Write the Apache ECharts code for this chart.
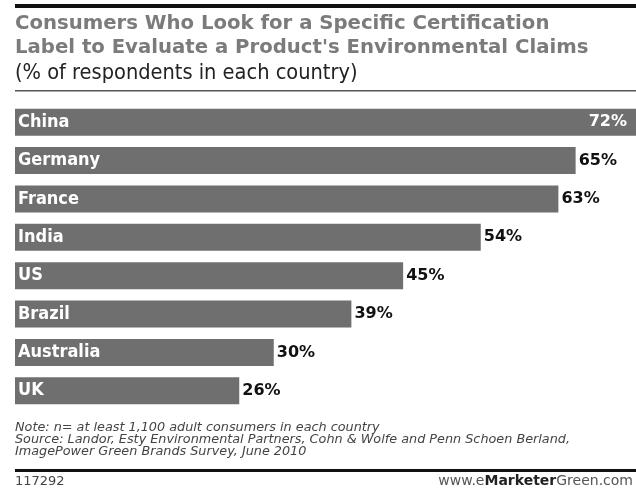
<!DOCTYPE html>
<html>
<head>
<meta charset="utf-8">
<script src="https://cdn.jsdelivr.net/npm/echarts@6/dist/echarts.min.js"></script>
<style>
  html, body { margin: 0; padding: 0; background: #ffffff; }
  #chart { width: 636px; height: 493px; }
</style>
</head>
<body>
<div id="chart"></div>
<script>
// Countries, top to bottom
const countries = ['China', 'Germany', 'France', 'India', 'US', 'Brazil', 'Australia', 'UK'];
// % of respondents who look for a specific certification label
const shares = [72, 65, 63, 54, 45, 39, 30, 26];

const titleLines = [
  'Consumers Who Look for a Specific Certification',
  "Label to Evaluate a Product's Environmental Claims"
];
const subtitle = '(% of respondents in each country)';
const notes = [
  'Note: n= at least 1,100 adult consumers in each country',
  'Source: Landor, Esty Environmental Partners, Cohn & Wolfe and Penn Schoen Berland,',
  'ImagePower Green Brands Survey, June 2010'
];
const chartId = '117292';

const chart = echarts.init(document.getElementById('chart'), null, { renderer: 'canvas' });

const BAR_COLOR = '#6f6f6f';

// value labels: outside the bar, except the longest bar which keeps it inside
const valueData = shares.map((v, i) => i === 0
  ? { value: v, label: { position: 'insideRight', distance: 9, color: '#ffffff' } }
  : v);

chart.setOption({
  animation: false,
  backgroundColor: '#ffffff',
  grid: { left: 15, right: 0, top: 103, bottom: 83, containLabel: false },
  xAxis: { type: 'value', min: 0, max: 72, show: false },
  yAxis: { type: 'category', data: countries, inverse: true, show: false },
  series: [
    {
      type: 'bar',
      data: shares,
      barWidth: 27,
      itemStyle: { color: BAR_COLOR },
      label: {
        show: true,
        position: 'insideLeft',
        distance: 3,
        formatter: p => p.name,
        color: '#ffffff',
        fontFamily: 'DejaVu Sans Condensed, DejaVu Sans',
        fontWeight: 'bold',
        fontSize: 18
      },
      z: 2
    },
    {
      type: 'bar',
      data: valueData,
      barWidth: 27,
      barGap: '-100%',
      itemStyle: { color: 'rgba(0,0,0,0)' },
      label: {
        show: true,
        position: 'right',
        distance: 3,
        formatter: p => p.value + '%',
        color: '#111111',
        fontFamily: 'DejaVu Sans',
        fontWeight: 'bold',
        fontSize: 16
      },
      z: 3
    }
  ],
  graphic: [
    // heading rule
    { type: 'rect', shape: { x: 15, y: 4, width: 621, height: 4 }, style: { fill: '#111111' } },
    {
      type: 'text', left: 15, top: 12,
      style: {
        text: titleLines.join('\n'),
        font: 'bold 19.7px "DejaVu Sans"',
        fill: '#7b7b7b',
        lineHeight: 24
      }
    },
    {
      type: 'text', left: 15, top: 62,
      style: {
        text: subtitle,
        font: '21.6px "DejaVu Sans Condensed"',
        fill: '#222222'
      }
    },
    { type: 'rect', shape: { x: 15, y: 90, width: 621, height: 1.5 }, style: { fill: '#555555' } },
    {
      type: 'text', left: 15, top: 421,
      style: {
        text: notes.join('\n'),
        font: 'italic 12.8px "DejaVu Sans"',
        fill: '#444444',
        lineHeight: 12
      }
    },
    // footer rule
    { type: 'rect', shape: { x: 15, y: 469, width: 621, height: 3 }, style: { fill: '#111111' } },
    {
      type: 'text', left: 15, top: 475,
      style: { text: chartId, font: '13px "DejaVu Sans"', fill: '#444444' }
    },
    {
      type: 'text', right: 3, top: 474,
      style: {
        text: '{n|www.e}{b|Marketer}{n|Green.com}',
        rich: {
          n: { font: '14px "DejaVu Sans"', fill: '#555555' },
          b: { font: 'bold 14px "DejaVu Sans"', fill: '#222222' }
        }
      }
    }
  ]
});
</script>
</body>
</html>
